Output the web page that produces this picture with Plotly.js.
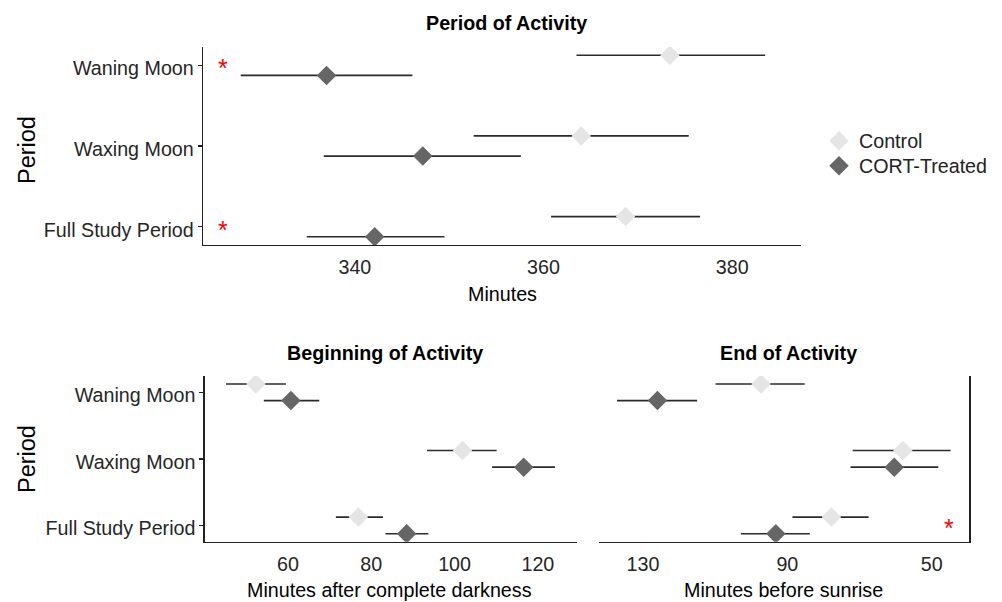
<!DOCTYPE html>
<html>
<head>
<meta charset="utf-8">
<script src="https://cdn.plot.ly/plotly-3.0.1.min.js"></script>
<style>html,body{margin:0;padding:0;background:#fff}#chart{width:1002px;height:602px}</style>
</head>
<body>
<div id="chart"></div>
<script>
// ---------- data ----------
const periods = ["Waning Moon", "Waxing Moon", "Full Study Period"];
const groups = ["Control", "CORT-Treated"];

// Period of Activity (minutes)
const actCtrlMean = [373.4, 364.0, 368.7];
const actCtrlLow  = [363.5, 352.6, 360.8];
const actCtrlHigh = [383.5, 375.4, 376.6];
const actCortMean = [337.0, 347.2, 342.1];
const actCortLow  = [327.9, 336.7, 334.9];
const actCortHigh = [346.1, 357.6, 349.5];

// Beginning of Activity (minutes after complete darkness)
const begCtrlMean = [52.3, 101.9, 76.9];
const begCtrlLow  = [45.1, 93.4, 71.5];
const begCtrlHigh = [59.5, 110.1, 82.8];
const begCortMean = [60.7, 116.6, 88.5];
const begCortLow  = [54.2, 109.0, 83.4];
const begCortHigh = [67.5, 124.1, 93.7];

// End of Activity (minutes before sunrise)
const endCtrlMean = [97.3, 58.0, 77.8];
const endCtrlLow  = [85.2, 44.8, 67.5];
const endCtrlHigh = [109.9, 71.9, 88.6];
const endCortMean = [126.0, 60.4, 93.2];
const endCortLow  = [115.0, 48.2, 83.8];
const endCortHigh = [137.2, 72.5, 102.9];

// significance markers
const sigActPeriods = ["Waning Moon", "Full Study Period"];
const sigActX = 326.0;
const sigEndPeriods = ["Full Study Period"];
const sigEndX = 45.2;

const actTicks = [340, 360, 380];
const begTicks = [60, 80, 100, 120];
const endTicks = [130, 90, 50];

// ---------- helpers ----------
const W = 1002, H = 602;
const px = v => v / W;
const py = v => 1 - v / H;
const catIdx = p => periods.length - 1 - periods.indexOf(p);
const DODGE = 0.125;
const FONT = "Liberation Sans, Arial, sans-serif";
const FS = 19.7;
const ctrlColor = "#e5e5e5", cortColor = "#666666", barColor = "#2b2b2b";

function trace(mean, low, high, grp, xa, ya, show) {
  const isCtrl = grp === "Control";
  return {
    type: "scatter", mode: "markers",
    x: mean,
    y: periods.map(p => catIdx(p) + (isCtrl ? DODGE : -DODGE)),
    xaxis: xa, yaxis: ya,
    name: grp, legendgroup: grp, showlegend: show,
    legend: isCtrl ? "legend" : "legend2",
    marker: {symbol: "diamond", size: 15, color: isCtrl ? ctrlColor : cortColor, line: {width: 0}},
    error_x: {type: "data", symmetric: false,
      array: high.map((h, i) => h - mean[i]),
      arrayminus: mean.map((m, i) => m - low[i]),
      width: 0, thickness: 1.6, color: barColor},
    hoverinfo: "x+name"
  };
}

const data = [
  trace(actCtrlMean, actCtrlLow, actCtrlHigh, "Control", "x", "y", true),
  trace(actCortMean, actCortLow, actCortHigh, "CORT-Treated", "x", "y", true),
  trace(begCtrlMean, begCtrlLow, begCtrlHigh, "Control", "x2", "y2", false),
  trace(begCortMean, begCortLow, begCortHigh, "CORT-Treated", "x2", "y2", false),
  trace(endCtrlMean, endCtrlLow, endCtrlHigh, "Control", "x3", "y3", false),
  trace(endCortMean, endCortLow, endCortHigh, "CORT-Treated", "x3", "y3", false)
];

const sigAnn = (x, p, xr, yr) => ({text: "*", x: x, y: catIdx(p), xref: xr, yref: yr,
  showarrow: false, xanchor: "center", yanchor: "middle", yshift: -3,
  font: {family: FONT, size: 25, color: "#ff0000"}});

const lineC = "#222222";
const tickFont = {family: FONT, size: FS, color: "#262626"};
const xBase = {showgrid: false, zeroline: false, showline: true, linecolor: lineC, linewidth: 1.3,
  ticks: "", tickfont: tickFont, tickmode: "array", fixedrange: true, ticklabelstandoff: 4};
const yBase = {showgrid: false, zeroline: false, showline: true, linecolor: lineC, linewidth: 1.3,
  tickmode: "array", tickvals: periods.map(catIdx), ticktext: periods.slice(),
  tickfont: tickFont, fixedrange: true, ticklabelshift: 3};

const legFont = {family: FONT, size: FS, color: "#222"};
const titleAnn = (t, x, y, size, angle) => ({text: t, x: px(x), y: py(y), xref: "paper", yref: "paper",
  showarrow: false, xanchor: "center", yanchor: "middle", textangle: angle || 0,
  font: {family: FONT, size: size, color: "#000"}});

const layout = {
  width: W, height: H,
  margin: {l: 0, r: 0, t: 0, b: 0},
  paper_bgcolor: "#fff", plot_bgcolor: "#fff",
  font: {family: FONT, color: "#000"},
  showlegend: true,
  legend: {x: px(819), y: py(141), xanchor: "left", yanchor: "middle", font: legFont,
    bgcolor: "rgba(0,0,0,0)", itemwidth: 30},
  legend2: {x: px(819), y: py(166), xanchor: "left", yanchor: "middle", font: legFont,
    bgcolor: "rgba(0,0,0,0)", itemwidth: 30},
  xaxis: Object.assign({}, xBase, {domain: [px(203), px(801)], range: [323.9, 387.3], anchor: "y",
    tickvals: actTicks}),
  yaxis: Object.assign({}, yBase, {domain: [py(245), py(47)], range: [-0.227, 2.227], anchor: "x",
    ticks: "outside", ticklen: 4, tickwidth: 1.3, tickcolor: lineC}),
  xaxis2: Object.assign({}, xBase, {domain: [px(204.7), px(577)], range: [40, 129.4], anchor: "y2",
    tickvals: begTicks}),
  yaxis2: Object.assign({}, yBase, {domain: [py(541.7), py(376)], range: [-0.245, 2.245], anchor: "x2",
    ticks: "outside", ticklen: 4, tickwidth: 1.3, tickcolor: lineC}),
  xaxis3: Object.assign({}, xBase, {domain: [px(599.3), px(969.3)], range: [142.1, 39.6], anchor: "y3",
    tickvals: endTicks}),
  yaxis3: Object.assign({}, yBase, {domain: [py(541.7), py(376)], range: [-0.245, 2.245], anchor: "x3",
    side: "right", ticks: "", showticklabels: false}),
  annotations: [
    titleAnn("<b>Period of Activity</b>", 506.7, 23, FS),
    titleAnn("<b>Beginning of Activity</b>", 385, 353, FS),
    titleAnn("<b>End of Activity</b>", 788, 353, FS),
    titleAnn("Minutes", 502, 294, FS),
    titleAnn("Minutes after complete darkness", 389, 590, FS),
    titleAnn("Minutes before sunrise", 783.5, 590, FS),
    titleAnn("Period", 27, 150, 23.5, -90),
    titleAnn("Period", 27, 459, 23.5, -90)
  ].concat(sigActPeriods.map(p => sigAnn(sigActX, p, "x", "y")),
           sigEndPeriods.map(p => sigAnn(sigEndX, p, "x3", "y3")))
};

Plotly.newPlot("chart", data, layout, {displayModeBar: false, staticPlot: true});
</script>
</body>
</html>
